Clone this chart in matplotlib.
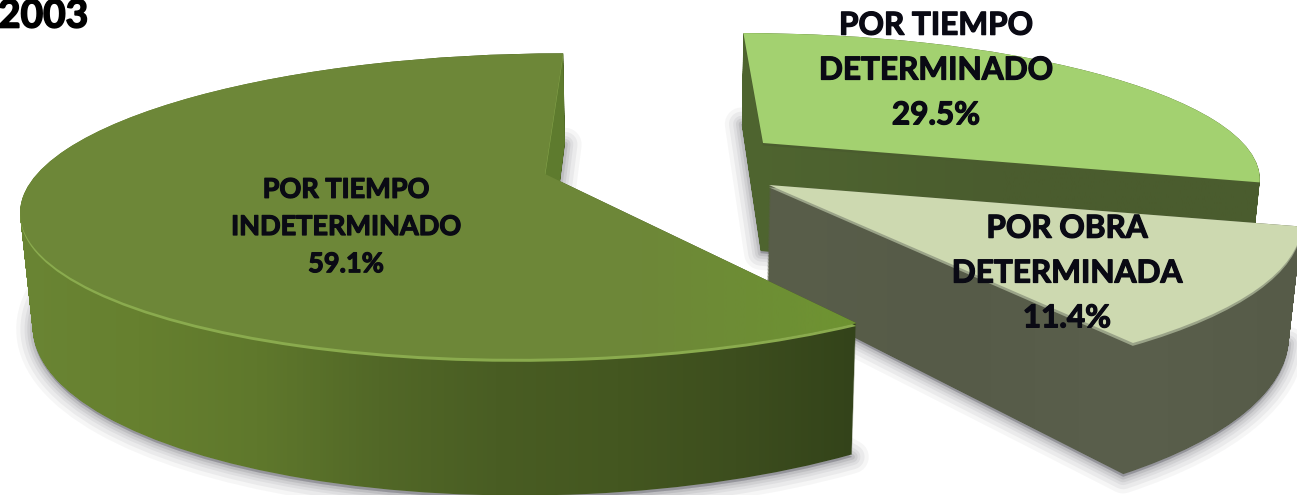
import numpy as np
import matplotlib
matplotlib.use("Agg")
import matplotlib.pyplot as plt
import matplotlib.patheffects as pe
from matplotlib.colors import LinearSegmentedColormap, to_rgba
from matplotlib.patches import PathPatch
from matplotlib.path import Path
from matplotlib.transforms import Transform

# datos
year = "2003"
names = ["POR TIEMPO\nINDETERMINADO", "POR OBRA\nDETERMINADA", "POR TIEMPO\nDETERMINADO"]
values = [59.1, 11.4, 29.5]

# estilo de cada sector (mismo orden)
top_colors = ["#6d8738", "#cdd9b0", "#a3d170"]
rim_colors = ["#8aab4e", "#9aa388", "#4a5c2e"]
side_colors = [
    ["#6a8534", "#66802f", "#5f782c", "#526827", "#495d23", "#445720", "#3d4e1e", "#33431a"],
    ["#595e4a", "#565b48", "#5a5f4c", "#565b48"],
    ["#4f6530", "#4a5c2e", "#4a5c2e"],
]
# centro, radios e inclinacion de la perspectiva
geom = [(545, 174, 508, 146, 0.0), (769, 185, 515, 158, 0.01), (763, 143, 480, 133, 0.0)]
label_xy = [(346, 227), (1067, 273), (936, 70)]
label_size = [19.5, 22.7, 22.7]
draw_order = [2, 1, 0]

VX = 650       # punto de fuga
G = 0.21
DEPTH = 108
SHRINK = 0.02


class Proj(Transform):
    input_dims = 2
    output_dims = 2

    def __init__(self, cx, cy, a, b, tilt, z=0.0):
        super().__init__()
        self.p = (cx, cy, a, b, tilt, z)

    def transform_non_affine(self, pts):
        cx, cy, a, b, tilt, z = self.p
        pts = np.asarray(pts, dtype=float)
        u, v = pts[:, 0], pts[:, 1]
        s = 1 / (1 + G * v)
        x = cx + a * u * s + (VX - cx) * (1 - s)
        y = cy - b * v * s - tilt * a * u * s + DEPTH * z * s
        x = VX + (x - VX) * (1 - SHRINK * z)
        return np.column_stack([x, y])


fig = plt.figure(figsize=(12.97, 4.95), dpi=100)
ax = fig.add_axes([0, 0, 1, 1])

wedges, _ = ax.pie(values, startangle=90, counterclock=True, radius=1,
                   colors=top_colors, wedgeprops={"linewidth": 0})

for n, i in enumerate(draw_order):
    w = wedges[i]
    g = geom[i]
    base = w.get_patch_transform().transform_path(w.get_path())
    z0 = 10 * n + 1

    # sombra difusa
    shadow = Proj(*g, z=1.02).transform_path(base)
    for lw, al in zip([24, 18, 12, 8, 4], [0.05, 0.07, 0.08, 0.10, 0.14]):
        ax.add_patch(PathPatch(shadow, facecolor="#55555f", edgecolor="#55555f",
                               alpha=al, lw=lw, zorder=z0, joinstyle="round"))

    # lateral con degradado
    swept = Path.make_compound_path(*[Proj(*g, z=z).transform_path(base)
                                      for z in np.linspace(0, 1, 140)])
    cmap = LinearSegmentedColormap.from_list("side", side_colors[i])
    xmin, xmax = swept.vertices[:, 0].min(), swept.vertices[:, 0].max()
    im = ax.imshow(np.linspace(0, 1, 256).reshape(1, -1), cmap=cmap, aspect="auto",
                   extent=(xmin, xmax, 495, 0), zorder=z0 + 1)
    im.set_clip_path(swept, transform=ax.transData)

    # borde claro y cara superior
    rim = Proj(*g, z=0.022).transform_path(base)
    ax.add_patch(PathPatch(rim, facecolor=rim_colors[i], lw=0, zorder=z0 + 2))
    w.set_transform(Proj(*g) + ax.transData)
    w.set_zorder(z0 + 3)

    if i == 0:
        # pared del corte, mas clara que el lateral
        t = np.deg2rad(w.theta1)
        edge = np.array([[0, 0], [np.cos(t), np.sin(t)]])
        a0, a1 = Proj(*g).transform(edge)
        b0, b1 = Proj(*g, z=1).transform(edge)
        ax.fill([a0[0], a1[0], b1[0], b0[0]], [a0[1], a1[1], b1[1], b0[1]],
                color="#5e7b2e", lw=0, zorder=z0 + 1.5)
        # la cara se aviva cerca de la esquina
        rgba = np.zeros((1, 256, 4))
        rgba[..., :3] = to_rgba("#6f9a2f")[:3]
        rgba[..., 3] = np.linspace(0, 0.7, 256)
        top_path = Proj(*g).transform_path(base)
        glow = ax.imshow(rgba, aspect="auto", extent=(640, 860, 495, 0), zorder=z0 + 4)
        glow.set_clip_path(top_path, transform=ax.transData)

ax.set_aspect("auto")
ax.set_xlim(0, 1297)
ax.set_ylim(495, 0)
ax.axis("off")

heavy = [pe.withStroke(linewidth=0.9, foreground="#0a0a14")]
for i in range(3):
    ax.text(label_xy[i][0], label_xy[i][1], f"{names[i]}\n{values[i]:.1f}%",
            ha="center", va="center", ma="center", family=["Lato", "DejaVu Sans"],
            fontsize=label_size[i], fontweight="bold", color="#0a0a14",
            linespacing=1.66, zorder=100, path_effects=heavy)

ax.text(-2, 16, year, ha="left", va="center", family=["Lato", "DejaVu Sans"], fontsize=28,
        fontweight="bold", color="black", zorder=100,
        path_effects=[pe.withStroke(linewidth=1.2, foreground="black")])

fig.savefig("out.png", dpi=100)
